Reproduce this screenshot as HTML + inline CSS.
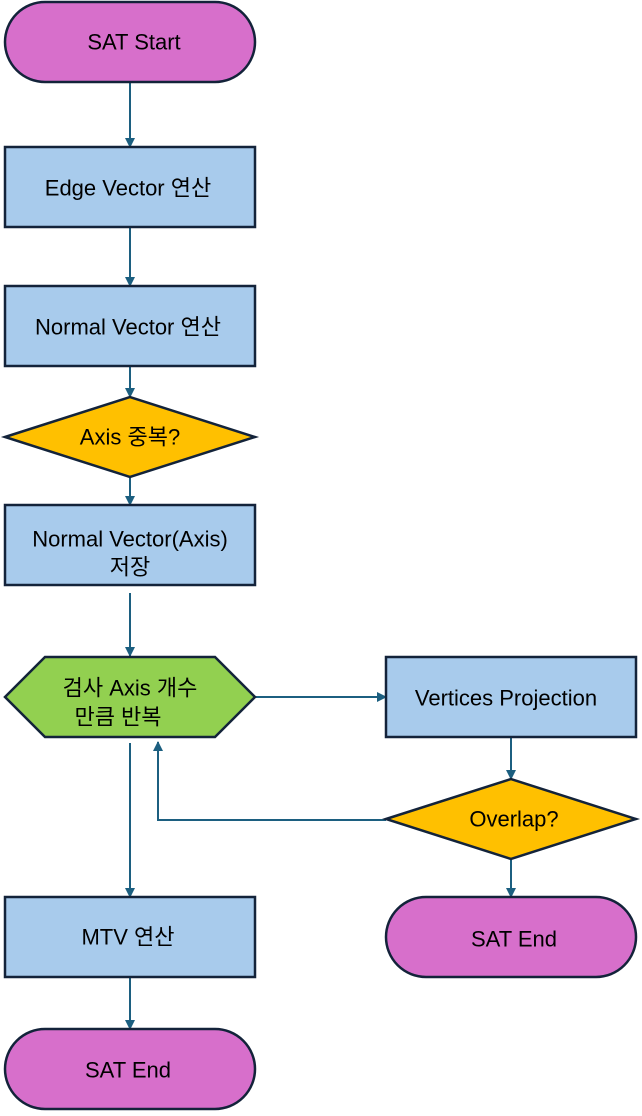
<!DOCTYPE html>
<html><head><meta charset="utf-8"><style>
body{margin:0;background:#fff}
text{font-family:"Liberation Sans","Noto Sans CJK KR",sans-serif;font-size:22px;fill:#000;text-anchor:middle;dominant-baseline:central}
</style></head><body>
<svg width="642" height="1111" viewBox="0 0 642 1111" xmlns="http://www.w3.org/2000/svg">
<defs><marker id="a" markerWidth="10" markerHeight="10" refX="9" refY="5" orient="auto" markerUnits="userSpaceOnUse"><path d="M0,0 L10,5 L0,10 z" fill="#1c5f80"/></marker></defs>
<g stroke="#1c5f80" stroke-width="2" fill="none" marker-end="url(#a)">
<path d="M130,83 V147"/><path d="M130,228 V286"/><path d="M130,367 V397"/><path d="M130,478 V505"/>
<path d="M130,593 V656"/><path d="M256,697 H386"/><path d="M511,738 V779"/><path d="M511,860 V897"/>
<path d="M386,820 H158 V742"/><path d="M130,743 V897"/><path d="M130,978 V1029"/>
</g>
<g stroke="#13233a" stroke-width="2.5">
<rect x="5" y="2" width="250" height="80" rx="40" fill="#d76fcb"/>
<rect x="5" y="147" width="250" height="80" fill="#a8cbec"/>
<rect x="5" y="286" width="250" height="80" fill="#a8cbec"/>
<polygon points="5,437 130,397 255,437 130,477" fill="#ffc000"/>
<rect x="5" y="505" width="250" height="80" fill="#a8cbec"/>
<polygon points="5,697 45,657 215,657 255,697 215,737 45,737" fill="#92d050"/>
<rect x="386" y="657" width="250" height="80" fill="#a8cbec"/>
<polygon points="386,819 511,779 636,819 511,859" fill="#ffc000"/>
<rect x="386" y="897" width="250" height="80" rx="40" fill="#d76fcb"/>
<rect x="5" y="897" width="250" height="80" fill="#a8cbec"/>
<rect x="5" y="1029" width="250" height="80" rx="40" fill="#d76fcb"/>
</g>
<text x="134" y="42">SAT Start</text>
<text x="128" y="188">Edge Vector 연산</text>
<text x="128" y="327">Normal Vector 연산</text>
<text x="130" y="437">Axis 중복?</text>
<text x="130" y="539">Normal Vector(Axis)</text>
<text x="130" y="567">저장</text>
<text x="130" y="688">검사 Axis 개수</text>
<text x="118" y="717">만큼 반복</text>
<text x="506" y="698">Vertices Projection</text>
<text x="514" y="819">Overlap?</text>
<text x="514" y="939">SAT End</text>
<text x="128" y="937">MTV 연산</text>
<text x="128" y="1070">SAT End</text>
</svg>
</body></html>
